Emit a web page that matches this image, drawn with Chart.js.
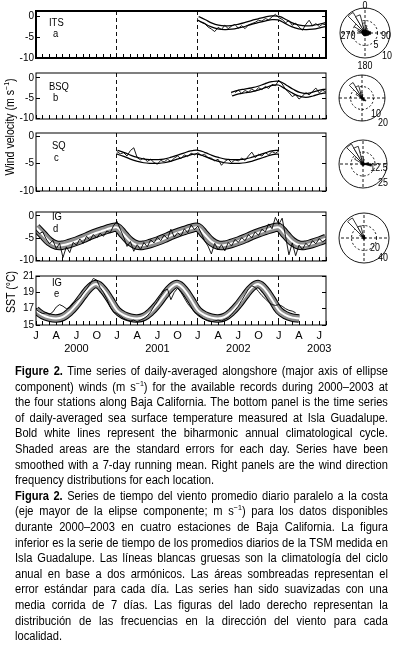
<!DOCTYPE html>
<html><head><meta charset="utf-8">
<script src="https://cdn.jsdelivr.net/npm/chart.js@4.4.1/dist/chart.umd.min.js"></script>
<style>
body{margin:0;width:396px;height:645px;background:#fff;position:relative;overflow:hidden;font-family:"Liberation Sans",Arial,sans-serif;color:#000;}
canvas{position:absolute;}
.t{position:absolute;font-size:11.5px;line-height:11px;white-space:nowrap;transform:scaleX(0.82);transform-origin:0 0;}
.c{position:absolute;font-size:10.5px;line-height:10px;white-space:nowrap;transform:translate(-50%,-50%) scaleX(0.85);}
.cap{position:absolute;left:15px;width:419px;font-size:12.5px;line-height:15.6px;height:15.6px;white-space:nowrap;text-align:justify;text-align-last:justify;transform:scaleX(0.89);transform-origin:0 0;}
.cap.last{text-align-last:left;}
.cap sup{font-size:8px;line-height:0;vertical-align:5px;}
.rot{position:absolute;transform:translate(-50%,-50%) rotate(-90deg) scaleX(0.88);font-size:12px;white-space:nowrap;}
</style></head><body>
<canvas id="pa" width="327" height="63" style="left:0;top:3px"></canvas>
<canvas id="pb" width="327" height="62" style="left:0;top:65px"></canvas>
<canvas id="pc" width="327" height="74" style="left:0;top:125px"></canvas>
<canvas id="pd" width="327" height="65" style="left:0;top:204px"></canvas>
<canvas id="pe" width="345" height="95" style="left:0;top:268px"></canvas>
<canvas id="ra" width="52" height="52" style="left:339px;top:7px"></canvas>
<canvas id="rb" width="48" height="48" style="left:338px;top:74px"></canvas>
<canvas id="rc" width="50" height="50" style="left:338px;top:139px"></canvas>
<canvas id="rd" width="52" height="52" style="left:338px;top:212px"></canvas>

<div class="rot" style="left:9px;top:127px">Wind velocity (m s<sup style="font-size:8px">−1</sup>)</div>
<div class="rot" style="left:11px;top:292px">SST (°C)</div>

<div class="t" style="left:49px;top:17px">ITS</div>
<div class="t" style="left:53px;top:28px">a</div>
<div class="t" style="left:49px;top:81px">BSQ</div>
<div class="t" style="left:53px;top:92px">b</div>
<div class="t" style="left:52px;top:140px">SQ</div>
<div class="t" style="left:54px;top:152px">c</div>
<div class="t" style="left:52px;top:211px">IG</div>
<div class="t" style="left:53px;top:223px">d</div>
<div class="t" style="left:52px;top:277px">IG</div>
<div class="t" style="left:54px;top:288px">e</div>

<div class="c" style="left:365px;top:5px">0</div>
<div class="c" style="left:348px;top:35px">270</div>
<div class="c" style="left:386px;top:35px">90</div>
<div class="c" style="left:365px;top:65px">180</div>
<div class="c" style="left:376px;top:44px">5</div>
<div class="c" style="left:387px;top:55px">10</div>
<div class="c" style="left:376px;top:113px">10</div>
<div class="c" style="left:383px;top:122px">20</div>
<div class="c" style="left:379px;top:167px">12.5</div>
<div class="c" style="left:383px;top:182px">25</div>
<div class="c" style="left:375px;top:247px">20</div>
<div class="c" style="left:383px;top:257px">40</div>

<div id="caption"></div>

<script>
// ---------- DATA ----------
const monthLetters = ['J','A','J','O'];
const yearLabels = ['2000','2001','2002','2003'];

// ITS (panel a)
const itsStart = 24, itsStep = 0.5;
const itsDaily = [-1.0,-1.5,-1.8,-2.6,-3.1,-3.7,-2.7,-3.2,-2.2,-3.0,-2.4,-2.0,-2.9,-2.3,-3.0,-2.1,-1.8,-1.5,-1.0,-1.2,-0.6,-0.9,-0.2,0.4,-0.4,-0.8,-1.6,-1.1,-2.2,-1.7,-2.6,-3.4,-2.0,-1.0,-2.3,-1.8,-2.5,-1.9,-2.1];
const itsClim = [-0.5,-1.3,-2.1,-2.6,-2.8,-2.7,-2.4,-2.0,-1.5,-1.1,-0.7,-0.4];
const itsClimSpan = [24, 43];

// BSQ (panel b)
const bsqStart = 29.5, bsqStep = 0.5;
const bsqDaily = [-3.6,-3.0,-3.8,-3.1,-3.5,-2.7,-3.3,-2.4,-2.9,-2.1,-2.6,-1.6,-1.9,-0.6,-1.5,-2.8,-3.6,-4.6,-4.1,-5.2,-4.5,-3.6,-4.2,-3.3,-2.5,-3.7,-3.0,-3.5];
const bsqClim = [-1.3,-2.2,-3.2,-4.0,-4.3,-4.0,-3.5,-3.2,-2.9,-2.5,-1.9,-1.4];
const bsqClimSpan = [29, 43];

// SQ (panel c)
const sqStart = 12, sqStep = 0.5;
const sqDaily = [-2.8,-3.2,-3.0,-3.6,-2.6,-2.1,-3.9,-4.3,-4.0,-4.6,-4.2,-4.8,-5.1,-4.4,-4.7,-4.2,-4.6,-4.0,-3.6,-4.1,-3.4,-3.7,-3.1,-3.4,-3.0,-3.5,-3.3,-3.9,-4.0,-4.5,-4.2,-5.3,-4.6,-4.2,-4.8,-4.3,-4.5,-4.0,-4.4,-3.6,-2.9,-3.9,-3.3,-3.6,-3.0,-3.4,-2.8,-3.1,-2.7];
const sqClim = [-2.9,-3.3,-3.8,-4.2,-4.5,-4.6,-4.6,-4.5,-4.2,-3.8,-3.4,-3.0];
const sqClimSpan = [12, 36];

// IG wind (panel d)
const igStart = 0, igStep = 0.5;
const igDaily = [-3.2,-4.0,-3.6,-5.2,-6.3,-5.5,-7.4,-6.2,-9.4,-7.0,-8.3,-6.0,-6.6,-5.2,-6.2,-4.6,-5.5,-4.2,-5.0,-3.9,-4.6,-3.4,-3.8,-2.2,-1.2,
 -3.0,-4.8,-6.9,-5.8,-8.0,-6.5,-7.6,-6.0,-7.0,-5.4,-6.1,-4.8,-5.6,-4.3,-5.2,-3.0,-4.8,-3.8,-4.5,-2.9,-3.8,-2.0,-3.1,
 -2.3,-3.9,-5.6,-6.8,-8.6,-6.2,-7.7,-6.5,-7.9,-6.0,-6.8,-5.3,-6.0,-4.9,-5.6,-4.2,-5.0,-3.6,-4.4,-3.0,-3.6,-1.8,-2.9,-0.3,-1.9,-0.5,
 -4.6,-8.8,-6.1,-9.0,-6.6,-7.6,-6.2,-6.9,-5.6,-6.3,-5.1,-5.9,-5.3];
const igClim = [-2.6,-4.2,-5.8,-6.6,-6.6,-6.2,-5.7,-5.1,-4.4,-3.8,-3.3,-2.8];
const igClimSpan = [0, 43];

// SST Isla Guadalupe (panel e)
const sstStart = 0, sstStep = 0.5;
const sstDaily = [16.9,16.6,16.4,16.5,16.3,16.6,17.2,17.5,17.3,17.0,17.1,17.6,18.0,18.3,18.9,19.4,20.0,20.7,20.5,19.6,19.0,18.2,17.2,16.6,
 16.4,16.1,15.8,15.6,15.5,15.6,15.4,15.6,15.8,16.1,16.6,17.3,17.9,18.6,19.2,19.4,18.1,19.0,19.5,19.0,18.3,17.6,17.1,16.6,
 16.3,16.0,15.7,15.5,15.4,15.5,15.6,15.5,15.7,15.9,16.3,16.8,17.3,18.0,18.7,19.4,19.8,19.6,19.1,18.6,18.2,17.8,17.5,17.4,
 17.5,17.3,17.0,16.8,16.7,16.5];
const sstClim = [16.8,16.2,15.9,15.8,16.0,16.6,17.5,18.6,19.6,20.0,19.3,18.1];
const sstClimSpan = [0, 39];

// Wind roses: 24 direction bins of 15 deg clockwise from north
const roseLabels = Array(24).fill('');
const roseA_open  = [3,2,1,0,0,0,0,0,0,0,0,0,0,0,0,0,0,0,2,3,5,9.5,7.5,4];
const roseA_solid = [1.2,1.2,1.3,1.5,1.8,2.3,2.3,1.8,1.5,1.3,1.2,1.2,1.2,1.2,1.1,1.1,1.1,1.2,1.3,1.4,1.5,1.5,1.4,1.2];
const roseB_open  = [3,1,0,0,0,0,0,0,0,0,0,0,0,0,0,0,0,0,0,2,6,15.5,11,5];
const roseB_solid = [1,1,1,1,1,1,1.5,2,4,3,1.5,1,1,1,1,1,1,1,1,1,1,1,1,1];
const roseC_open  = [5,2,0,0,0,0,0,0,0,0,0,0,0,0,0,0,0,0,0,3,10,24,19,8];
const roseC_solid = [1.5,1.5,1.5,1.5,1.5,6,9,2,1.5,1.5,1.5,1.5,1.5,1.5,1.5,1.5,1.5,1.5,1.5,1.5,1.5,1.5,1.5,1.5];
const roseD_open  = [4,0,0,0,0,0,0,0,0,0,0,0,0,0,0,0,0,0,0,0,8,37,20,5];
const roseD_solid = [2,2,2,2,2,2,2,2,2,2,2,2,2,2,2,2,2,2,2,2,2,3,3,2];

const enLines = [
 '<b>Figure 2.</b> Time series of daily-averaged alongshore (major axis of ellipse',
 'component) winds (m s<sup>−1</sup>) for the available records during 2000–2003 at',
 'the four stations along Baja California. The bottom panel is the time series',
 'of daily-averaged sea surface temperature measured at Isla Guadalupe.',
 'Bold white lines represent the biharmonic annual climatological cycle.',
 'Shaded areas are the standard errors for each day. Series have been',
 'smoothed with a 7-day running mean. Right panels are the wind direction',
 'frequency distributions for each location.'];
const esLines = [
 '<b>Figura 2.</b> Series de tiempo del viento promedio diario paralelo a la costa',
 '(eje mayor de la elipse componente; m s<sup>−1</sup>) para los datos disponibles',
 'durante 2000–2003 en cuatro estaciones de Baja California. La figura',
 'inferior es la serie de tiempo de los promedios diarios de la TSM medida en',
 'Isla Guadalupe. Las líneas blancas gruesas son la climatología del ciclo',
 'anual en base a dos armónicos. Las áreas sombreadas representan el',
 'error estándar para cada día. Las series han sido suavizadas con una',
 'media corrida de 7 días. Las figuras del lado derecho representan la',
 'distribución de las frecuencias en la dirección del viento para cada',
 'localidad.'];

// ---------- CAPTION ----------
(function(){
  const cap = document.getElementById('caption');
  const all = enLines.concat(esLines);
  all.forEach((s,i)=>{
    const d = document.createElement('div');
    d.className = 'cap' + ((i===enLines.length-1 || i===all.length-1) ? ' last' : '');
    d.style.top = (363.9 + i*15.6) + 'px';
    d.innerHTML = s;
    cap.appendChild(d);
  });
})();

// ---------- CHARTS ----------
Chart.defaults.font.family = '"Liberation Sans",Arial,sans-serif';
Chart.defaults.color = '#000';
Chart.defaults.animation = false;

const frame = {
  id:'frame',
  afterDraw(chart, args, opts){
    const {ctx, chartArea:a} = chart;
    ctx.save(); ctx.lineWidth = opts.width || 1; ctx.strokeStyle = '#000';
    ctx.strokeRect(a.left, a.top, a.right-a.left, a.bottom-a.top);
    ctx.restore();
  }
};

function pts(start, step, vals){ return vals.map((v,i)=>({x:start+i*step, y:v})); }
function climPts(monthly, span){ const out=[]; for(let m=span[0]; m<=span[1]; m++) out.push({x:m, y:monthly[m%12]}); return out; }
function noPad(s){ s.paddingTop=0; s.paddingBottom=0; s.paddingLeft=0; s.paddingRight=0; }

function panel(id, o){
  const cp = climPts(o.clim, o.span);
  const ds = [
    {data: pts(o.start, o.step, o.daily), borderColor:'#000', borderWidth:0.9, pointRadius:0, tension:0, clip:0},
    {data: cp, borderColor:'#fff', borderWidth:o.whiteW, pointRadius:0, tension:0.4, clip:0},
  ];
  if (o.grayW) ds.push({data: cp, borderColor:'#8e8e8e', borderWidth:o.grayW, pointRadius:0, tension:0.4, clip:0});
  ds.push({data: cp, borderColor:'#000', borderWidth:o.blackW, pointRadius:0, tension:0.4, clip:0});
  const yTicks = {stepSize:o.stepY, includeBounds:false, padding:6, font:{size:10}, callback:v=>String(v)};
  new Chart(document.getElementById(id), {
    type:'line',
    data:{datasets:ds},
    plugins:[frame],
    options:{
      responsive:false, events:[],
      layout:{padding:{top:8,bottom:o.xLabels?6:8,left:0,right:o.padR||1}},
      plugins:{legend:{display:false}, tooltip:{enabled:false}, frame:{width:o.frameW}},
      scales:{
        x:{type:'linear', min:0, max:43, position:'bottom',
          afterFit:s=>{s.height = o.xLabels?32:0; noPad(s);},
          ticks:{display:!!o.xLabels, stepSize:1, autoSkip:false, maxRotation:0, includeBounds:false, padding:8, font:{size:11},
            callback:v=>{ if(!Number.isInteger(v) || v%3) return ''; const m=v%12; const L=monthLetters[m/3]; return m===6?[L, yearLabels[Math.floor(v/12)]]:L; }},
          grid:{drawOnChartArea:true, drawTicks:true, tickLength:-4, tickColor:'#000', tickWidth:1, lineWidth:1,
            color:c=>(c.tick && (c.tick.value===12||c.tick.value===24||c.tick.value===36))?'#111':'rgba(0,0,0,0)'},
          border:{display:false, dash:[4,3]}},
        y:{min:o.minY, max:o.maxY, position:'left', afterFit:s=>{s.width=36; noPad(s);},
          ticks:yTicks,
          grid:{drawOnChartArea:false, drawTicks:true, tickLength:-4, color:'#000', tickColor:'#000'},
          border:{display:false}},
        y2:{min:o.minY, max:o.maxY, position:'right', afterFit:s=>{s.width=0; noPad(s);},
          ticks:{display:false, stepSize:o.stepY, includeBounds:false},
          grid:{drawOnChartArea:false, drawTicks:true, tickLength:-4, color:'#000', tickColor:'#000'},
          border:{display:false}}
      }
    }
  });
}

panel('pa', {daily:itsDaily, start:itsStart, step:itsStep, clim:itsClim, span:itsClimSpan, minY:-10, maxY:1.2, stepY:5, whiteW:2.5, blackW:5, frameW:2});
panel('pb', {daily:bsqDaily, start:bsqStart, step:bsqStep, clim:bsqClim, span:bsqClimSpan, minY:-10.1, maxY:1.2, stepY:5, whiteW:2.5, blackW:5, frameW:1});
panel('pc', {daily:sqDaily, start:sqStart, step:sqStep, clim:sqClim, span:sqClimSpan, minY:-10, maxY:0.6, stepY:5, whiteW:2.5, blackW:5, frameW:1});
panel('pd', {daily:igDaily, start:igStart, step:igStep, clim:igClim, span:igClimSpan, minY:-10.2, maxY:0.9, stepY:5, whiteW:2, grayW:7.5, blackW:9.5, frameW:1});
panel('pe', {daily:sstDaily, start:sstStart, step:sstStep, clim:sstClim, span:sstClimSpan, minY:15, maxY:21, stepY:2, whiteW:2, grayW:6.5, blackW:8.5, frameW:1, xLabels:true, padR:19});

function rose(id, openVals, solidVals, max){
  new Chart(document.getElementById(id), {
    type:'polarArea',
    data:{labels:roseLabels, datasets:[
      {data:solidVals, backgroundColor:'#000', borderColor:'#000', borderWidth:0.6},
      {data:openVals, backgroundColor:'#fff', borderColor:'#000', borderWidth:0.8}
    ]},
    options:{
      responsive:false, events:[],
      layout:{padding:1},
      plugins:{legend:{display:false}, tooltip:{enabled:false}},
      scales:{r:{min:0, max:max, startAngle:0,
        ticks:{display:false, stepSize:max/2},
        pointLabels:{display:false},
        grid:{circular:true, color:'#000', lineWidth:0.9},
        border:{dash:c=>c.index===1?[2,2]:[]},
        angleLines:{display:true, lineWidth:0.9, borderDash:[3,2], color:c=>c.index%6===0?'#000':'rgba(0,0,0,0)'}}}
    }
  });
}
rose('ra', roseA_open, roseA_solid, 10);
rose('rb', roseB_open, roseB_solid, 20);
rose('rc', roseC_open, roseC_solid, 25);
rose('rd', roseD_open, roseD_solid, 40);
</script>
</body></html>
